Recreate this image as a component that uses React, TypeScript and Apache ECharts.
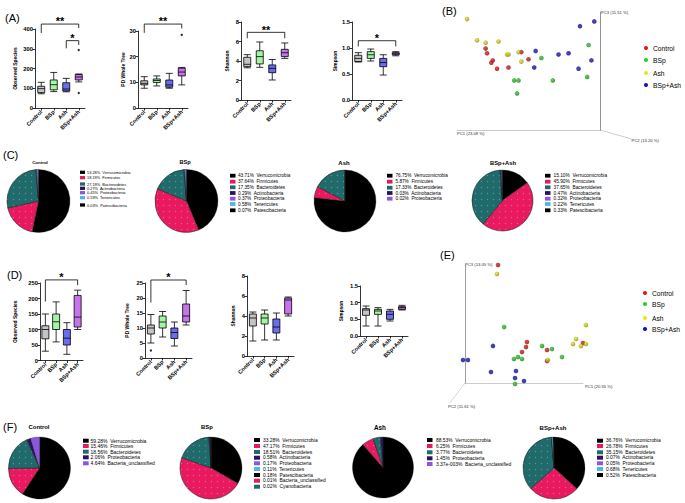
import React, { useEffect, useRef } from "react";
import * as echarts from "echarts";

const FONT = "'Liberation Sans', Arial, Helvetica, sans-serif";

// ================= DATA =================
const groups = ["Control", "BSp", "Ash", "BSp+Ash"];
const groupColors = ["#c4c4c4", "#a3f5a3", "#6b6cee", "#c774ea"];

// Panel A boxplots: [min, Q1, median, Q3, max]
const aObservedSpecies = [[72, 78, 98, 110, 130], [83, 92, 118, 142, 180], [82, 86, 96, 128, 150], [132, 142, 157, 170, 172]];
const aObservedOutliers = [[3, 294], [3, 76]];
const aPDWholeTree = [[7.7, 9.0, 9.6, 10.6, 12.2], [8.6, 9.9, 10.7, 11.3, 12.5], [7.7, 8.1, 9.0, 10.9, 13.5], [9.0, 12.5, 14.0, 15.5, 15.8]];
const aPDOutliers = [[3, 28.5]];
const aShannon = [[3.3, 3.42, 3.66, 4.38, 4.65], [3.35, 3.7, 4.45, 5.05, 5.95], [2.05, 2.8, 3.25, 3.6, 4.15], [4.27, 4.45, 4.85, 5.2, 5.85]];
const aSimpson = [[0.73, 0.74, 0.8, 0.86, 0.91], [0.75, 0.8, 0.87, 0.93, 0.98], [0.48, 0.64, 0.72, 0.8, 0.87], [0.85, 0.87, 0.89, 0.91, 0.93]];

// Panel D boxplots
const dObservedSpecies = [[30, 70, 100, 112, 150], [60, 100, 125, 150, 189], [20, 50, 72, 100, 122], [100, 108, 140, 210, 227]];
const dPDWholeTree = [[5, 8, 10, 11, 14.5], [7, 10, 12, 14, 15.5], [4, 6.5, 8.5, 10, 12], [11, 12, 14, 18, 22.5]];
const dPDOutliers = [[0, 2.5]];
const dShannon = [[1.5, 3.0, 3.8, 4.2, 4.4], [1.6, 3.2, 3.8, 4.2, 4.6], [1.6, 2.3, 2.9, 3.7, 4.3], [4.0, 4.2, 5.6, 5.8, 5.9]];
const dSimpson = [[0.3, 0.62, 0.78, 0.82, 0.9], [0.3, 0.65, 0.75, 0.8, 0.85], [0.45, 0.5, 0.65, 0.75, 0.8], [0.78, 0.8, 0.85, 0.88, 0.92]];

// tick labels
const ticksObservedA = ["0", "100", "200", "300", "400"];
const ticksPDA = ["0", "10", "20", "30"];
const ticksShannon = ["0", "2", "4", "6", "8"];
const ticksSimpson = ["0.0", "0.5", "1.0", "1.5"];
const ticksObservedD = ["0", "50", "100", "150", "200", "250"];
const ticksPDD = ["0", "5", "10", "15", "20", "25"];

// significance: panel, from, to, bracket level, left drop, right drop
const sigBrackets = [
  { panel: 0, from: 0, to: 3, level: 425, leftEnd: 380, rightEnd: 405, label: "**" },
  { panel: 0, from: 2, to: 3, level: 341, leftEnd: 302, rightEnd: 319, label: "*" },
  { panel: 1, from: 0, to: 3, level: 32.7, leftEnd: 29.3, rightEnd: 31, label: "**" },
  { panel: 2, from: 0, to: 3, level: 6.94, leftEnd: 6.33, rightEnd: 6.33, label: "**" },
  { panel: 3, from: 0, to: 3, level: 1.14, leftEnd: 1.03, rightEnd: 1.03, label: "*" },
  { panel: 4, from: 0, to: 3, level: 260, leftEnd: 190, rightEnd: 243, label: "*" },
  { panel: 5, from: 0, to: 3, level: 26, leftEnd: 18.5, rightEnd: 24.3, label: "*" },
];

// PCoA (B) projected coordinates
const bControl = [[20, 69], [21, 65], [25, 59], [24, 57], [28, 52], [36, 53], [45, 66], [50, 60]];
const bBSp = [[59, 61], [40, 42], [43, 42], [42, 31], [67, 42], [92, 72], [91, 45]];
const bAsh = [[7, 94], [14, 76], [20, 74], [29, 75], [35, 64], [36, 64], [43, 66], [45, 58]];
const bBSpAsh = [[86, 88], [96, 92], [55, 67], [71, 64], [78, 65], [54, 53], [85, 52], [94, 59]];
const bAxisNames = ["PC3 (11.51 %)", "PC1 (23.08 %)", "PC2 (13.20 %)"];

// PCoA (E) projected coordinates
const eControl = [[28, 100], [52.5, 34.7], [51.7, 30.5], [48.3, 26.3], [69.5, 28], [100, 33.9], [69.5, 18.6]];
const eBSp = [[33.1, 47.5], [65.3, 31.4], [73.7, 28.8], [44.9, 22], [41.5, 20.3], [48.3, 20.3], [82.2, 22], [42.4, -0.8]];
const eAsh = [[27.1, 92.4], [102.5, 49.2], [94.1, 37.3], [91.5, 33.1], [98.3, 31.4], [102.5, 33.1], [70.3, 19.5]];
const eBSpAsh = [[23.7, 31.4], [-1.7, 19.5], [2.5, 19.5], [22, 9.3], [43.2, 10.2], [42.4, 4.2], [50, 1.7]];
const eAxisNames = ["PC3 (13.05 %)", "PC1 (20.55 %)", "PC2 (11.61 %)"];
const scatterColors = ["#e01c1c", "#2fcc2f", "#e8e81c", "#1515cc"];

// Pies (phylum relative abundance, %)
const phyla7 = ["Verrucomicrobia", "Firmicutes", "Bacteroidetes", "Actinobacteria", "Proteobacteria", "Tenericutes", "Patescibacteria"];
const phyla5 = ["Verrucomicrobia", "Firmicutes", "Bacteroidetes", "Actinobacteria", "Proteobacteria"];
const phylaF5 = ["Verrucomicrobia", "Firmicutes", "Bacteroidetes", "Proteobacteria", "Bacteria_unclassified"];
const phyla9 = ["Verrucomicrobia", "Firmicutes", "Bacteroidetes", "Actinobacteria", "Proteobacteria", "Tenericutes", "Patescibacteria", "Bacteria_unclassified", "Cyanobacteria"];
const cControlPct = ["53.28", "18.19", "27.19", "0.27", "0.45", "0.59", "0.03"];
const cBSpPct = ["43.71", "37.64", "17.35", "0.29", "0.37", "0.58", "0.07"];
const cAshPct = ["76.75", "5.87", "17.33", "0.03", "0.02"];
const cBSpAshPct = ["15.10", "45.90", "37.65", "0.47", "0.32", "0.22", "0.33"];
const fControlPct = ["59.28", "15.46", "18.56", "2.06", "4.64"];
const fBSpPct = ["33.28", "47.17", "18.51", "0.58", "0.17", "0.11", "0.18", "0.01", "0.02"];
const fAshPct = ["88.53", "6.25", "3.77", "1.45", "3.37e-003"];
const fBSpAshPct = ["36.76", "26.78", "35.15", "0.07", "0.05", "0.68", "0.52"];
const phylumPalette = ["#000000", "#e9195f", "#1f6b6c", "#2b1262", "#8c57e0", "#4fb4ea", "#000000", "#e9195f", "#1f6b6c"];

// ================= LAYOUT =================
const boxPanels = [
  { values: aObservedSpecies, outliers: aObservedOutliers, ticks: ticksObservedA, name: "Observed Species", l: 35, t: 29, w: 50, h: 79, gap: 17 },
  { values: aPDWholeTree, outliers: aPDOutliers, ticks: ticksPDA, name: "PD Whole Tree", l: 138, t: 31, w: 50, h: 77, gap: 10 },
  { values: aShannon, outliers: [], ticks: ticksShannon, name: "Shannon", l: 241, t: 22, w: 50, h: 78, gap: 11 },
  { values: aSimpson, outliers: [], ticks: ticksSimpson, name: "Simpson", l: 352, t: 22, w: 50, h: 78, gap: 13 },
  { values: dObservedSpecies, outliers: [], ticks: ticksObservedD, name: "Observed Species", l: 40, t: 283, w: 43, h: 77.5, gap: 22 },
  { values: dPDWholeTree, outliers: dPDOutliers, ticks: ticksPDD, name: "PD Whole Tree", l: 145, t: 283, w: 47, h: 75, gap: 15 },
  { values: dShannon, outliers: [], ticks: ticksShannon, name: "Shannon", l: 247, t: 276, w: 47, h: 80, gap: 11 },
  { values: dSimpson, outliers: [], ticks: ticksSimpson, name: "Simpson", l: 360, t: 286, w: 48, h: 50, gap: 16 },
];
const B_GRID = 8;
const E_GRID = 9;

const pies = [
  { title: "Control", names: phyla7, pct: cControlPct, cx: 38.5, cy: 201, r: 31.5, tx: 40, ty: 162, ts: 4.4, lx: 80, rows: [172.3, 177.7, 184, 188.3, 192.7, 197.7, 205], lf: 3.9, sq: [5, 3.3], tdx: 7 },
  { title: "BSp", names: phyla7, pct: cBSpPct, cx: 186.5, cy: 201, r: 31.5, tx: 185, ty: 162, ts: 5.6, lx: 230, rows: [175.7, 181.7, 187.3, 193, 198.7, 204, 210.3], lf: 4.7, sq: [5.5, 3.8], tdx: 8 },
  { title: "Ash", names: phyla5, pct: cAshPct, cx: 345, cy: 201, r: 31, tx: 344, ty: 163, ts: 6, lx: 387, rows: [175.7, 181.7, 187.7, 193, 198.7], lf: 4.7, sq: [5.5, 3.8], tdx: 8.5 },
  { title: "BSp+Ash", names: phyla7, pct: cBSpAshPct, cx: 502.5, cy: 200.5, r: 30.5, tx: 503, ty: 163, ts: 5.8, lx: 545, rows: [175.7, 181.7, 187.3, 193, 198.7, 204, 210.3], lf: 4.8, sq: [5.5, 3.8], tdx: 8.5 },
  { title: "Control", names: phylaF5, pct: fControlPct, cx: 39.5, cy: 468, r: 31, tx: 39, ty: 427, ts: 5.9, lx: 83, rows: [440.7, 446, 451.7, 457.3, 463.3], lf: 5, sq: [5.7, 4], tdx: 7.5 },
  { title: "BSp", names: phyla9, pct: fBSpPct, cx: 211, cy: 468, r: 31, tx: 207, ty: 427, ts: 5.9, lx: 254, rows: [440, 446, 452, 457.7, 463.3, 469, 475, 480.7, 486.7], lf: 4.9, sq: [6, 4], tdx: 9 },
  { title: "Ash", names: phylaF5, pct: fAshPct, cx: 383, cy: 467.5, r: 30.5, tx: 380, ty: 427, ts: 6.3, lx: 427, rows: [440, 446, 452.3, 458.3, 464], lf: 4.9, sq: [5.5, 4], tdx: 9 },
  { title: "BSp+Ash", names: phyla7, pct: fBSpAshPct, cx: 554, cy: 468, r: 31, tx: 553, ty: 428, ts: 6, lx: 597, rows: [440.7, 446, 452.3, 457.7, 463.3, 469, 475], lf: 4.9, sq: [6, 4], tdx: 9 },
];

const panelLabels = [
  { t: "(A)", x: 5, y: 17.5 }, { t: "(B)", x: 442, y: 11 }, { t: "(C)", x: 3, y: 155 },
  { t: "(D)", x: 7, y: 275 }, { t: "(E)", x: 440, y: 255 }, { t: "(F)", x: 3, y: 427 },
];

function buildOption() {
  const grid: any[] = [];
  const xAxis: any[] = [];
  const yAxis: any[] = [];
  const series: any[] = [];
  const axisLineStyle = { color: "#000", width: 0.8 };
  boxPanels.forEach((p, i) => {
    const min = parseFloat(p.ticks[0]);
    const max = parseFloat(p.ticks[p.ticks.length - 1]);
    const interval = parseFloat(p.ticks[1]) - min;
    grid.push({ left: p.l, top: p.t, width: p.w, height: p.h });
    xAxis.push({
      gridIndex: i, type: "category", data: groups, boundaryGap: true,
      axisLine: { show: true, onZero: false, lineStyle: axisLineStyle },
      axisTick: { show: true, alignWithLabel: true, length: 2.5, lineStyle: axisLineStyle },
      axisLabel: { interval: 0, rotate: 45, fontSize: 5.6, fontWeight: "bold", color: "#000", margin: 3, fontFamily: FONT },
      splitLine: { show: false },
    });
    yAxis.push({
      gridIndex: i, type: "value", min, max, interval,
      axisLine: { show: true, onZero: false, lineStyle: axisLineStyle },
      axisTick: { show: true, length: 2.5, lineStyle: axisLineStyle },
      axisLabel: {
        fontSize: 5.8, fontWeight: "bold", color: "#000", margin: 2, fontFamily: FONT,
        formatter: (v: number) => p.ticks[Math.round((v - min) / interval)] ?? "",
      },
      splitLine: { show: false },
      name: p.name, nameLocation: "middle", nameGap: p.gap, nameRotate: 90,
      nameTextStyle: { fontSize: 4.9, fontWeight: "bold", color: "#000", fontFamily: FONT },
    });
    series.push({
      type: "boxplot", xAxisIndex: i, yAxisIndex: i, boxWidth: [7, 7], silent: true,
      itemStyle: { borderColor: "#000", borderWidth: 0.8 },
      data: p.values.map((v, k) => ({ value: v, itemStyle: { color: groupColors[k], borderColor: "#000", borderWidth: 0.8 } })),
    });
    if (p.outliers.length) {
      series.push({
        type: "scatter", xAxisIndex: i, yAxisIndex: i, data: p.outliers, symbol: "circle",
        symbolSize: 2.4, itemStyle: { color: "#000" }, clip: false, silent: true,
      });
    }
  });

  // B grid
  grid.push({ left: 457, top: 12, width: 143, height: 118 });
  xAxis.push({
    gridIndex: B_GRID, type: "value", min: 0, max: 100,
    axisLine: { show: true, onZero: false, lineStyle: { color: "#b5b5b5", width: 0.7 } },
    axisTick: { show: false }, axisLabel: { show: false }, splitLine: { show: false },
  });
  yAxis.push({
    gridIndex: B_GRID, type: "value", min: 0, max: 100, position: "right",
    axisLine: { show: true, onZero: false, lineStyle: { color: "#666", width: 0.7 } },
    axisTick: { show: false }, axisLabel: { show: false }, splitLine: { show: false },
  });
  // E grid
  grid.push({ left: 465, top: 265, width: 118, height: 118 });
  xAxis.push({
    gridIndex: E_GRID, type: "value", min: 0, max: 100,
    axisLine: { show: true, onZero: false, lineStyle: { color: "#b5b5b5", width: 0.7 } },
    axisTick: { show: false }, axisLabel: { show: false }, splitLine: { show: false },
  });
  yAxis.push({
    gridIndex: E_GRID, type: "value", min: 0, max: 100, position: "left",
    axisLine: { show: true, onZero: false, lineStyle: { color: "#777", width: 0.7 } },
    axisTick: { show: false }, axisLabel: { show: false }, splitLine: { show: false },
  });

  const bSets = [bControl, bBSp, bAsh, bBSpAsh];
  const eSets = [eControl, eBSp, eAsh, eBSpAsh];
  const dark = ["#8a0c0c", "#178017", "#8c8c10", "#0a0a78"];
  [B_GRID, E_GRID].forEach((gi) => {
    const sets = gi === B_GRID ? bSets : eSets;
    sets.forEach((d, k) => {
      series.push({
        type: "scatter", xAxisIndex: gi, yAxisIndex: gi, data: d, symbol: "circle", symbolSize: 4.6,
        clip: false, silent: true, name: groups[k],
        itemStyle: {
          color: new echarts.graphic.RadialGradient(0.38, 0.35, 0.65, [
            { offset: 0, color: scatterColors[k] },
            { offset: 1, color: dark[k] },
          ]),
        },
      });
    });
  });

  pies.forEach((p) => {
    series.push({
      type: "pie", center: [p.cx, p.cy], radius: p.r, startAngle: 90, clockwise: true,
      label: { show: false }, labelLine: { show: false }, silent: true, avoidLabelOverlap: false,
      itemStyle: { borderColor: "#1a1a1a", borderWidth: 0.3 },
      emphasis: { disabled: true },
      data: p.names.map((n, k) => ({
        name: n, value: parseFloat(p.pct[k]),
        itemStyle: {
          color: phylumPalette[k],
          decal: k === 1 || k === 2 || k === 7 || k === 8
            ? { symbol: "circle", symbolSize: 0.45, color: "rgba(255,255,255,0.28)", dashArrayX: 2.2, dashArrayY: 2.2 }
            : undefined,
        },
      })),
    });
  });

  return {
    animation: false,
    textStyle: { fontFamily: FONT },
    grid, xAxis, yAxis, series,
  };
}

function buildGraphic(chart: any) {
  const g: any[] = [];
  const T = (x: number, y: number, text: string, fontSize: number, o: any = {}) =>
    g.push({
      type: "text", x, y, silent: true,
      style: {
        text, fontSize, fontFamily: FONT, fontWeight: o.bold ? "bold" : "normal", fill: o.color || "#000",
        align: o.align || "left", verticalAlign: o.va || "middle",
        textAlign: o.align || "left", textVerticalAlign: o.va || "middle",
      },
    });

  panelLabels.forEach((p) => T(p.x, p.y, p.t, 11));

  sigBrackets.forEach((s) => {
    const px = (c: number, v: number) => chart.convertToPixel({ gridIndex: s.panel }, [c, v]);
    const a = px(s.from, s.leftEnd), b = px(s.from, s.level), c = px(s.to, s.level), d = px(s.to, s.rightEnd);
    g.push({ type: "polyline", silent: true, shape: { points: [a, b, c, d] }, style: { stroke: "#000", lineWidth: 0.8, fill: "none" } });
    T((b[0] + c[0]) / 2, b[1] - 2.6, s.label, 11, { bold: true, align: "center" });
  });

  // 3D axis diagonals & names
  const bp = (x: number, y: number) => chart.convertToPixel({ gridIndex: B_GRID }, [x, y]);
  const ep = (x: number, y: number) => chart.convertToPixel({ gridIndex: E_GRID }, [x, y]);
  const b0 = bp(100, 0), b1 = bp(122, -7.6);
  g.push({ type: "line", silent: true, shape: { x1: b0[0], y1: b0[1], x2: b1[0], y2: b1[1] }, style: { stroke: "#aaa", lineWidth: 0.6 } });
  const e0 = ep(0, 0), e1 = ep(-12.7, -16.9);
  g.push({ type: "line", silent: true, shape: { x1: e0[0], y1: e0[1], x2: e1[0], y2: e1[1] }, style: { stroke: "#bbb", lineWidth: 0.6 } });
  const pcFont = 4.2;
  const bTop = bp(100, 100), bLeft = bp(0, 0);
  T(bTop[0] + 1, bTop[1] + 0.5, bAxisNames[0], pcFont, { color: "#333" });
  T(bLeft[0], bLeft[1] + 3.5, bAxisNames[1], pcFont, { color: "#333" });
  T(b1[0], b1[1] + 2, bAxisNames[2], pcFont, { color: "#333" });
  const eTop = ep(0, 100), eRight = ep(100, 0);
  T(eTop[0], eTop[1] - 0.5, eAxisNames[0], pcFont, { color: "#333" });
  T(eRight[0] + 2, eRight[1] + 3, eAxisNames[1], pcFont, { color: "#333" });
  T(e1[0] - 2, e1[1] + 4, eAxisNames[2], pcFont, { color: "#333" });

  // scatter legends
  const legs = [
    { dx: 646, tx: 653, rows: [48, 60, 73, 85] },
    { dx: 645, tx: 652, rows: [293, 304, 318, 329] },
  ];
  legs.forEach((L) => {
    groups.forEach((name, k) => {
      g.push({ type: "circle", silent: true, shape: { cx: L.dx, cy: L.rows[k], r: 2.1 }, style: { fill: scatterColors[k] } });
      T(L.tx, L.rows[k], name, 6.7);
    });
  });

  // pie titles & legends
  pies.forEach((p) => {
    T(p.tx, p.ty, p.title, p.ts, { bold: true, align: "center" });
    p.names.forEach((n, k) => {
      const y = p.rows[k];
      g.push({ type: "rect", silent: true, shape: { x: p.lx, y: y - p.sq[1] / 2, width: p.sq[0], height: p.sq[1] }, style: { fill: phylumPalette[k] } });
      T(p.lx + p.tdx, y, `${p.pct[k]}%  ${n}`, p.lf);
    });
  });
  return g;
}

export default function App() {
  const ref = useRef<HTMLDivElement>(null);
  useEffect(() => {
    document.body.style.margin = "0";
    const chart = echarts.init(ref.current as HTMLDivElement, null, { renderer: "svg" });
    chart.setOption(buildOption() as any);
    chart.setOption({ graphic: buildGraphic(chart) } as any);
    return () => chart.dispose();
  }, []);
  return <div ref={ref} style={{ width: 685, height: 503, background: "#fff" }} />;
}
